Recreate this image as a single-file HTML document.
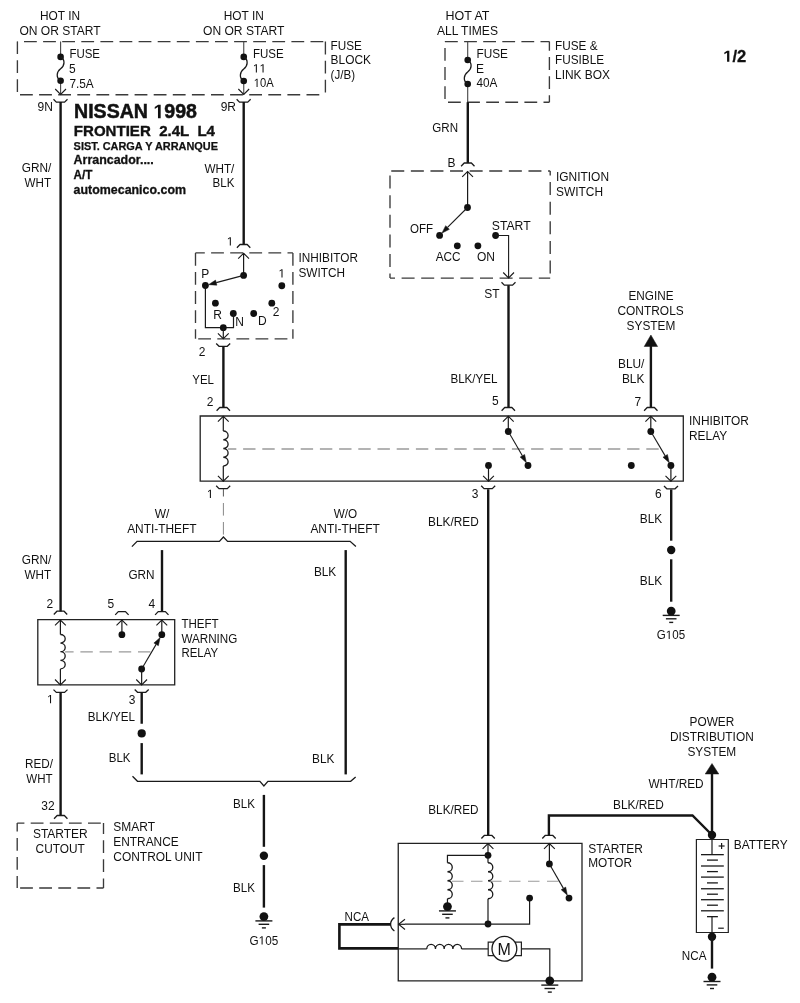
<!DOCTYPE html>
<html><head><meta charset="utf-8"><style>
html,body{margin:0;padding:0;background:#fff;}
svg{display:block;will-change:transform;font-family:"Liberation Sans",sans-serif;}
</style></head><body>
<svg width="800" height="1003" viewBox="0 0 800 1003">
<rect x="0" y="0" width="800" height="1003" fill="#fff"/>
<line x1="17.4" y1="41.6" x2="325.4" y2="41.6" stroke="#3a3a3a" stroke-width="1.35" stroke-dasharray="12.8 6.3" stroke-dashoffset="-6.6"/>
<line x1="325.4" y1="41.6" x2="325.4" y2="94.7" stroke="#3a3a3a" stroke-width="1.35" stroke-dasharray="12.8 6.3" stroke-dashoffset="0"/>
<line x1="17.4" y1="94.7" x2="325.4" y2="94.7" stroke="#3a3a3a" stroke-width="1.35" stroke-dasharray="12.8 6.3" stroke-dashoffset="-2.6"/>
<line x1="17.4" y1="41.6" x2="17.4" y2="94.7" stroke="#3a3a3a" stroke-width="1.35" stroke-dasharray="12.8 6.3" stroke-dashoffset="0.5"/>
<line x1="445" y1="41.6" x2="549.4" y2="41.6" stroke="#3a3a3a" stroke-width="1.35" stroke-dasharray="12.8 6.3" stroke-dashoffset="0"/>
<line x1="549.4" y1="41.6" x2="549.4" y2="102.2" stroke="#3a3a3a" stroke-width="1.35" stroke-dasharray="12.8 6.3" stroke-dashoffset="3.6"/>
<line x1="445" y1="102.2" x2="549.4" y2="102.2" stroke="#3a3a3a" stroke-width="1.35" stroke-dasharray="12.8 6.3" stroke-dashoffset="-3"/>
<line x1="445" y1="41.6" x2="445" y2="102.2" stroke="#3a3a3a" stroke-width="1.35" stroke-dasharray="12.8 6.3" stroke-dashoffset="-6.4"/>
<line x1="60.6" y1="41.6" x2="60.6" y2="56.9" stroke="#444" stroke-width="1.1" />
<line x1="60.6" y1="80.8" x2="60.6" y2="94.4" stroke="#444" stroke-width="1.1" />
<circle cx="60.6" cy="56.9" r="3.3" fill="#111"/>
<circle cx="60.6" cy="80.8" r="3.3" fill="#111"/>
<path d="M60.6,56.9 C65.6,59.9 64.6,65.85 60.6,68.85 C56.6,71.85 55.6,77.8 60.6,80.8" stroke="#1a1a1a" stroke-width="1.3" fill="none" />
<path d="M55.20,89.00 L60.60,94.40 L66.00,89.00" stroke="#1a1a1a" stroke-width="1.1" fill="none" />
<path d="M53.50,99.30 L56.30,102.10 L64.60,102.10 L67.50,99.30" stroke="#1a1a1a" stroke-width="1.3" fill="none" stroke-linejoin="round"/>
<line x1="60.6" y1="102" x2="60.6" y2="611.6" stroke="#151515" stroke-width="2.4" />
<line x1="243.75" y1="41.6" x2="243.75" y2="56.9" stroke="#444" stroke-width="1.1" />
<line x1="243.75" y1="81" x2="243.75" y2="94.4" stroke="#444" stroke-width="1.1" />
<circle cx="243.75" cy="56.9" r="3.3" fill="#111"/>
<circle cx="243.75" cy="81" r="3.3" fill="#111"/>
<path d="M243.75,56.9 C248.75,59.9 247.75,65.95 243.75,68.95 C239.75,71.95 238.75,78 243.75,81" stroke="#1a1a1a" stroke-width="1.3" fill="none" />
<path d="M238.35,89.00 L243.75,94.40 L249.15,89.00" stroke="#1a1a1a" stroke-width="1.1" fill="none" />
<path d="M236.65,99.30 L239.45,102.10 L247.75,102.10 L250.65,99.30" stroke="#1a1a1a" stroke-width="1.3" fill="none" stroke-linejoin="round"/>
<line x1="243.7" y1="102" x2="243.7" y2="244.5" stroke="#151515" stroke-width="2.4" />
<line x1="467.7" y1="41.6" x2="467.7" y2="60" stroke="#444" stroke-width="1.1" />
<line x1="467.7" y1="84" x2="467.7" y2="102.2" stroke="#444" stroke-width="1.1" />
<circle cx="467.7" cy="60" r="3.3" fill="#111"/>
<circle cx="467.7" cy="84" r="3.3" fill="#111"/>
<path d="M467.7,60 C472.7,63 471.7,69.0 467.7,72.0 C463.7,75.0 462.7,81 467.7,84" stroke="#1a1a1a" stroke-width="1.3" fill="none" />
<line x1="467.8" y1="102.2" x2="467.8" y2="163" stroke="#151515" stroke-width="2.4" />
<text xml:space="preserve" x="40.00" y="20.40" font-size="12" font-weight="normal" textLength="40.05" lengthAdjust="spacingAndGlyphs" fill="#111">HOT IN</text>
<text xml:space="preserve" x="19.40" y="34.75" font-size="12" font-weight="normal" textLength="81.30" lengthAdjust="spacingAndGlyphs" fill="#111">ON OR START</text>
<text xml:space="preserve" x="223.75" y="20.40" font-size="12" font-weight="normal" textLength="40.05" lengthAdjust="spacingAndGlyphs" fill="#111">HOT IN</text>
<text xml:space="preserve" x="203.00" y="34.75" font-size="12" font-weight="normal" textLength="81.40" lengthAdjust="spacingAndGlyphs" fill="#111">ON OR START</text>
<text xml:space="preserve" x="445.60" y="20.40" font-size="12" font-weight="normal" textLength="43.83" lengthAdjust="spacingAndGlyphs" fill="#111">HOT AT</text>
<text xml:space="preserve" x="436.90" y="34.75" font-size="12" font-weight="normal" textLength="61.09" lengthAdjust="spacingAndGlyphs" fill="#111">ALL TIMES</text>
<text xml:space="preserve" x="69.40" y="57.90" font-size="12" font-weight="normal" textLength="30.60" lengthAdjust="spacingAndGlyphs" fill="#111">FUSE</text>
<text xml:space="preserve" x="69.10" y="72.50" font-size="12" font-weight="normal" textLength="6.67" lengthAdjust="spacingAndGlyphs" fill="#111">5</text>
<text xml:space="preserve" x="69.40" y="87.50" font-size="12" font-weight="normal" textLength="24.34" lengthAdjust="spacingAndGlyphs" fill="#111">7.5A</text>
<text xml:space="preserve" x="253.00" y="57.90" font-size="12" font-weight="normal" textLength="30.75" lengthAdjust="spacingAndGlyphs" fill="#111">FUSE</text>
<path d="M515 0V1237L197 1010V1180L530 1409H696V0Z" transform="translate(252.82,72.50) scale(0.00586,-0.00586)" fill="#111"/>
<path d="M515 0V1237L197 1010V1180L530 1409H696V0Z" transform="translate(259.50,72.50) scale(0.00586,-0.00586)" fill="#111"/>
<text xml:space="preserve" x="252.82" y="72.50" font-size="12" font-weight="normal" textLength="12.46" lengthAdjust="spacingAndGlyphs" fill="#111">  </text>
<path d="M515 0V1237L197 1010V1180L530 1409H696V0Z" transform="translate(253.75,87.10) scale(0.00548,-0.00586)" fill="#111"/>
<text xml:space="preserve" x="253.75" y="87.10" font-size="12" font-weight="normal" textLength="19.95" lengthAdjust="spacingAndGlyphs" fill="#111"> 0A</text>
<text xml:space="preserve" x="476.50" y="57.90" font-size="12" font-weight="normal" textLength="31.50" lengthAdjust="spacingAndGlyphs" fill="#111">FUSE</text>
<text xml:space="preserve" x="476.12" y="72.50" font-size="12" font-weight="normal" textLength="8.00" lengthAdjust="spacingAndGlyphs" fill="#111">E</text>
<text xml:space="preserve" x="476.50" y="87.10" font-size="12" font-weight="normal" textLength="20.95" lengthAdjust="spacingAndGlyphs" fill="#111">40A</text>
<text xml:space="preserve" x="330.60" y="49.60" font-size="12" font-weight="normal" textLength="31.30" lengthAdjust="spacingAndGlyphs" fill="#111">FUSE</text>
<text xml:space="preserve" x="330.60" y="64.40" font-size="12" font-weight="normal" textLength="40.38" lengthAdjust="spacingAndGlyphs" fill="#111">BLOCK</text>
<text xml:space="preserve" x="330.60" y="78.75" font-size="12" font-weight="normal" textLength="24.43" lengthAdjust="spacingAndGlyphs" fill="#111">(J/B)</text>
<text xml:space="preserve" x="555.00" y="49.60" font-size="12" font-weight="normal" textLength="42.54" lengthAdjust="spacingAndGlyphs" fill="#111">FUSE &amp;</text>
<text xml:space="preserve" x="555.00" y="64.40" font-size="12" font-weight="normal" textLength="49.02" lengthAdjust="spacingAndGlyphs" fill="#111">FUSIBLE</text>
<text xml:space="preserve" x="555.00" y="79.40" font-size="12" font-weight="normal" textLength="54.96" lengthAdjust="spacingAndGlyphs" fill="#111">LINK BOX</text>
<text xml:space="preserve" x="37.60" y="110.60" font-size="12" font-weight="normal" textLength="15.34" lengthAdjust="spacingAndGlyphs" fill="#111">9N</text>
<text xml:space="preserve" x="220.65" y="110.60" font-size="12" font-weight="normal" textLength="15.34" lengthAdjust="spacingAndGlyphs" fill="#111">9R</text>
<path d="M478 0V1170L140 959V1180L493 1409H759V0Z" transform="translate(723.20,61.80) scale(0.00809,-0.00781)" fill="#111"/>
<text xml:space="preserve" x="723.20" y="61.80" font-size="16" font-weight="bold" textLength="23.04" lengthAdjust="spacingAndGlyphs" fill="#111" stroke="#111" stroke-width="0.3"> /2</text>
<path d="M478 0V1170L140 959V1180L493 1409H759V0Z" transform="translate(153.41,118.30) scale(0.00956,-0.00967)" fill="#111"/>
<text xml:space="preserve" x="74.00" y="118.30" font-size="19.8" font-weight="bold" textLength="122.96" lengthAdjust="spacingAndGlyphs" fill="#111" stroke="#111" stroke-width="0.5">NISSAN  998</text>
<text xml:space="preserve" x="73.80" y="136.00" font-size="14.2" font-weight="bold" textLength="141.18" lengthAdjust="spacingAndGlyphs" fill="#111" stroke="#111" stroke-width="0.35">FRONTIER  2.4L  L4</text>
<text xml:space="preserve" x="73.60" y="150.00" font-size="11" font-weight="bold" textLength="144.37" lengthAdjust="spacingAndGlyphs" fill="#111" stroke="#111" stroke-width="0.25">SIST. CARGA Y ARRANQUE</text>
<text xml:space="preserve" x="73.60" y="164.40" font-size="12.4" font-weight="bold" textLength="80.19" lengthAdjust="spacingAndGlyphs" fill="#111" stroke="#111" stroke-width="0.3">Arrancador....</text>
<text xml:space="preserve" x="73.60" y="178.90" font-size="12.4" font-weight="bold" textLength="18.88" lengthAdjust="spacingAndGlyphs" fill="#111" stroke="#111" stroke-width="0.3">A/T</text>
<text xml:space="preserve" x="73.60" y="194.00" font-size="12.4" font-weight="bold" textLength="112.43" lengthAdjust="spacingAndGlyphs" fill="#111" stroke="#111" stroke-width="0.3">automecanico.com</text>
<text xml:space="preserve" x="21.80" y="172.20" font-size="12" font-weight="normal" textLength="29.60" lengthAdjust="spacingAndGlyphs" fill="#111">GRN/</text>
<text xml:space="preserve" x="24.50" y="187.00" font-size="12" font-weight="normal" textLength="26.52" lengthAdjust="spacingAndGlyphs" fill="#111">WHT</text>
<text xml:space="preserve" x="204.40" y="172.50" font-size="12" font-weight="normal" textLength="29.96" lengthAdjust="spacingAndGlyphs" fill="#111">WHT/</text>
<text xml:space="preserve" x="212.50" y="187.10" font-size="12" font-weight="normal" textLength="21.88" lengthAdjust="spacingAndGlyphs" fill="#111">BLK</text>
<text xml:space="preserve" x="432.25" y="131.50" font-size="12" font-weight="normal" textLength="25.77" lengthAdjust="spacingAndGlyphs" fill="#111">GRN</text>
<path d="M461.10,166.25 L464.20,163.00 L471.40,163.00 L474.50,166.25" stroke="#1a1a1a" stroke-width="1.3" fill="none" stroke-linejoin="round"/>
<text xml:space="preserve" x="447.50" y="166.50" font-size="12" font-weight="normal" textLength="8.00" lengthAdjust="spacingAndGlyphs" fill="#111">B</text>
<line x1="390" y1="171" x2="550.2" y2="171" stroke="#3a3a3a" stroke-width="1.35" stroke-dasharray="13 6.6" stroke-dashoffset="-1.25"/>
<line x1="550.2" y1="171" x2="550.2" y2="278.1" stroke="#3a3a3a" stroke-width="1.35" stroke-dasharray="13 6.6" stroke-dashoffset="8.5"/>
<line x1="390" y1="278.1" x2="550.2" y2="278.1" stroke="#3a3a3a" stroke-width="1.35" stroke-dasharray="13 6.6" stroke-dashoffset="8"/>
<line x1="390" y1="171" x2="390" y2="278.1" stroke="#3a3a3a" stroke-width="1.35" stroke-dasharray="13 6.6" stroke-dashoffset="-4.6"/>
<path d="M462.20,176.90 L467.60,171.50 L473.00,176.90" stroke="#1a1a1a" stroke-width="1.1" fill="none" />
<line x1="467.6" y1="171.5" x2="467.6" y2="207.5" stroke="#1a1a1a" stroke-width="1.2" />
<circle cx="467.5" cy="207.5" r="3.4" fill="#111"/>
<circle cx="439.6" cy="235.4" r="3.4" fill="#111"/>
<line x1="467.50" y1="207.50" x2="447.52" y2="227.48" stroke="#1a1a1a" stroke-width="1.1" />
<path d="M441.86,233.14 L445.68,225.64 L449.36,229.32 Z" stroke="#1a1a1a" stroke-width="0.5" fill="#111" />
<circle cx="457.3" cy="245.8" r="3.4" fill="#111"/>
<circle cx="477.9" cy="245.8" r="3.4" fill="#111"/>
<circle cx="495.6" cy="235.5" r="3.4" fill="#111"/>
<path d="M495.6,235.5 H508.6 V277.9" stroke="#1a1a1a" stroke-width="1.1" fill="none" />
<path d="M503.20,272.50 L508.60,277.90 L514.00,272.50" stroke="#1a1a1a" stroke-width="1.1" fill="none" />
<path d="M501.50,282.30 L504.30,285.10 L512.60,285.10 L515.50,282.30" stroke="#1a1a1a" stroke-width="1.3" fill="none" stroke-linejoin="round"/>
<line x1="508.5" y1="285.2" x2="508.5" y2="407.5" stroke="#151515" stroke-width="2.4" />
<text xml:space="preserve" x="556.00" y="181.00" font-size="12" font-weight="normal" textLength="53.03" lengthAdjust="spacingAndGlyphs" fill="#111">IGNITION</text>
<text xml:space="preserve" x="556.00" y="195.50" font-size="12" font-weight="normal" textLength="47.03" lengthAdjust="spacingAndGlyphs" fill="#111">SWITCH</text>
<text xml:space="preserve" x="410.00" y="233.10" font-size="12" font-weight="normal" textLength="23.09" lengthAdjust="spacingAndGlyphs" fill="#111">OFF</text>
<text xml:space="preserve" x="491.75" y="229.75" font-size="12" font-weight="normal" textLength="38.88" lengthAdjust="spacingAndGlyphs" fill="#111">START</text>
<text xml:space="preserve" x="435.75" y="261.25" font-size="12" font-weight="normal" textLength="24.89" lengthAdjust="spacingAndGlyphs" fill="#111">ACC</text>
<text xml:space="preserve" x="476.90" y="261.25" font-size="12" font-weight="normal" textLength="18.00" lengthAdjust="spacingAndGlyphs" fill="#111">ON</text>
<text xml:space="preserve" x="484.35" y="297.50" font-size="12" font-weight="normal" textLength="15.33" lengthAdjust="spacingAndGlyphs" fill="#111">ST</text>
<path d="M236.90,247.75 L240.00,244.50 L247.20,244.50 L250.30,247.75" stroke="#1a1a1a" stroke-width="1.3" fill="none" stroke-linejoin="round"/>
<path d="M515 0V1237L197 1010V1180L530 1409H696V0Z" transform="translate(226.78,245.50) scale(0.00586,-0.00586)" fill="#111"/>
<text xml:space="preserve" x="226.78" y="245.50" font-size="12" font-weight="normal" textLength="6.67" lengthAdjust="spacingAndGlyphs" fill="#111"> </text>
<line x1="195.5" y1="252.9" x2="292.9" y2="252.9" stroke="#3a3a3a" stroke-width="1.35" stroke-dasharray="12.8 6.3" stroke-dashoffset="3.5"/>
<line x1="292.9" y1="252.9" x2="292.9" y2="338.8" stroke="#3a3a3a" stroke-width="1.35" stroke-dasharray="12.8 6.3" stroke-dashoffset="0"/>
<line x1="195.5" y1="338.8" x2="292.9" y2="338.8" stroke="#3a3a3a" stroke-width="1.35" stroke-dasharray="12.8 6.3" stroke-dashoffset="-2.7"/>
<line x1="195.5" y1="252.9" x2="195.5" y2="338.8" stroke="#3a3a3a" stroke-width="1.35" stroke-dasharray="12.8 6.3" stroke-dashoffset="0"/>
<path d="M238.20,258.65 L243.60,253.25 L249.00,258.65" stroke="#1a1a1a" stroke-width="1.1" fill="none" />
<line x1="243.6" y1="253.25" x2="243.6" y2="275.4" stroke="#1a1a1a" stroke-width="1.2" />
<circle cx="243.6" cy="275.4" r="3.4" fill="#111"/>
<circle cx="205.4" cy="285.5" r="3.4" fill="#111"/>
<line x1="243.60" y1="275.40" x2="216.23" y2="282.64" stroke="#1a1a1a" stroke-width="1.1" />
<path d="M208.49,284.68 L215.56,280.12 L216.89,285.15 Z" stroke="#1a1a1a" stroke-width="0.5" fill="#111" />
<circle cx="281.8" cy="285.75" r="3.4" fill="#111"/>
<circle cx="215.4" cy="303.2" r="3.4" fill="#111"/>
<circle cx="233.3" cy="313.5" r="3.4" fill="#111"/>
<circle cx="253.7" cy="313.5" r="3.4" fill="#111"/>
<circle cx="271.8" cy="303.2" r="3.4" fill="#111"/>
<path d="M205.4,285.5 V327.7 H233.5 V313.5" stroke="#1a1a1a" stroke-width="1.2" fill="none" />
<circle cx="223.3" cy="327.7" r="3.4" fill="#111"/>
<line x1="223.3" y1="327.7" x2="223.3" y2="338.7" stroke="#1a1a1a" stroke-width="1.2" />
<path d="M217.90,333.30 L223.30,338.70 L228.70,333.30" stroke="#1a1a1a" stroke-width="1.1" fill="none" />
<path d="M216.20,343.50 L219.00,346.30 L227.30,346.30 L230.20,343.50" stroke="#1a1a1a" stroke-width="1.3" fill="none" stroke-linejoin="round"/>
<line x1="223.4" y1="346.5" x2="223.4" y2="407.5" stroke="#151515" stroke-width="2.4" />
<text xml:space="preserve" x="298.50" y="262.20" font-size="12" font-weight="normal" textLength="59.45" lengthAdjust="spacingAndGlyphs" fill="#111">INHIBITOR</text>
<text xml:space="preserve" x="298.50" y="277.00" font-size="12" font-weight="normal" textLength="46.53" lengthAdjust="spacingAndGlyphs" fill="#111">SWITCH</text>
<text xml:space="preserve" x="201.35" y="277.50" font-size="12" font-weight="normal" textLength="8.00" lengthAdjust="spacingAndGlyphs" fill="#111">P</text>
<path d="M515 0V1237L197 1010V1180L530 1409H696V0Z" transform="translate(278.45,277.50) scale(0.00586,-0.00586)" fill="#111"/>
<text xml:space="preserve" x="278.45" y="277.50" font-size="12" font-weight="normal" textLength="6.67" lengthAdjust="spacingAndGlyphs" fill="#111"> </text>
<text xml:space="preserve" x="213.25" y="318.75" font-size="12" font-weight="normal" textLength="8.67" lengthAdjust="spacingAndGlyphs" fill="#111">R</text>
<text xml:space="preserve" x="235.15" y="326.30" font-size="12" font-weight="normal" textLength="8.67" lengthAdjust="spacingAndGlyphs" fill="#111">N</text>
<text xml:space="preserve" x="258.05" y="324.70" font-size="12" font-weight="normal" textLength="8.67" lengthAdjust="spacingAndGlyphs" fill="#111">D</text>
<text xml:space="preserve" x="272.85" y="316.30" font-size="12" font-weight="normal" textLength="6.67" lengthAdjust="spacingAndGlyphs" fill="#111">2</text>
<text xml:space="preserve" x="198.85" y="355.60" font-size="12" font-weight="normal" textLength="6.67" lengthAdjust="spacingAndGlyphs" fill="#111">2</text>
<text xml:space="preserve" x="192.25" y="383.75" font-size="12" font-weight="normal" textLength="21.73" lengthAdjust="spacingAndGlyphs" fill="#111">YEL</text>
<text xml:space="preserve" x="206.85" y="405.60" font-size="12" font-weight="normal" textLength="6.67" lengthAdjust="spacingAndGlyphs" fill="#111">2</text>
<text xml:space="preserve" x="628.50" y="300.25" font-size="12" font-weight="normal" textLength="45.01" lengthAdjust="spacingAndGlyphs" fill="#111">ENGINE</text>
<text xml:space="preserve" x="617.50" y="315.40" font-size="12" font-weight="normal" textLength="66.22" lengthAdjust="spacingAndGlyphs" fill="#111">CONTROLS</text>
<text xml:space="preserve" x="626.60" y="329.75" font-size="12" font-weight="normal" textLength="48.69" lengthAdjust="spacingAndGlyphs" fill="#111">SYSTEM</text>
<path d="M650.9,335 L657.6,346.5 L644.2,346.5 Z" stroke="#1a1a1a" stroke-width="0.5" fill="#111" />
<line x1="650.9" y1="346" x2="650.9" y2="407.5" stroke="#151515" stroke-width="2.4" />
<text xml:space="preserve" x="618.00" y="368.10" font-size="12" font-weight="normal" textLength="26.38" lengthAdjust="spacingAndGlyphs" fill="#111">BLU/</text>
<text xml:space="preserve" x="621.90" y="382.50" font-size="12" font-weight="normal" textLength="22.48" lengthAdjust="spacingAndGlyphs" fill="#111">BLK</text>
<text xml:space="preserve" x="634.40" y="405.50" font-size="12" font-weight="normal" textLength="6.67" lengthAdjust="spacingAndGlyphs" fill="#111">7</text>
<text xml:space="preserve" x="450.40" y="383.40" font-size="12" font-weight="normal" textLength="47.20" lengthAdjust="spacingAndGlyphs" fill="#111">BLK/YEL</text>
<text xml:space="preserve" x="491.90" y="405.40" font-size="12" font-weight="normal" textLength="6.67" lengthAdjust="spacingAndGlyphs" fill="#111">5</text>
<path d="M200.2,416 H683.3 V481.2 H200.2 Z" stroke="#222" stroke-width="1.3" fill="none" />
<line x1="228" y1="449" x2="659.5" y2="449" stroke="#9a9a9a" stroke-width="1.3" stroke-dasharray="12.4 6.8" stroke-dashoffset="4.1"/>
<path d="M216.60,410.75 L219.70,407.50 L226.90,407.50 L230.00,410.75" stroke="#1a1a1a" stroke-width="1.3" fill="none" stroke-linejoin="round"/>
<path d="M217.90,421.70 L223.30,416.30 L228.70,421.70" stroke="#1a1a1a" stroke-width="1.1" fill="none" />
<line x1="223.3" y1="416.3" x2="223.3" y2="431" stroke="#1a1a1a" stroke-width="1.2" />
<path d="M223.3,431 A4.8 4.375 0 0 1 223.3,439.750 A4.8 4.375 0 0 1 223.3,448.500 A4.8 4.375 0 0 1 223.3,457.250 A4.8 4.375 0 0 1 223.3,466.000" stroke="#1a1a1a" stroke-width="1.3" fill="none" />
<line x1="223.3" y1="466" x2="223.3" y2="481.2" stroke="#1a1a1a" stroke-width="1.2" />
<path d="M217.90,475.80 L223.30,481.20 L228.70,475.80" stroke="#1a1a1a" stroke-width="1.1" fill="none" />
<path d="M216.20,485.80 L219.00,488.60 L227.30,488.60 L230.20,485.80" stroke="#1a1a1a" stroke-width="1.3" fill="none" stroke-linejoin="round"/>
<line x1="223.4" y1="489" x2="223.4" y2="496.5" stroke="#555" stroke-width="1.0" />
<line x1="223.4" y1="503" x2="223.4" y2="536" stroke="#888" stroke-width="1.0" stroke-dasharray="12.6 6.4" stroke-dashoffset="0"/>
<path d="M501.60,410.75 L504.70,407.50 L511.90,407.50 L515.00,410.75" stroke="#1a1a1a" stroke-width="1.3" fill="none" stroke-linejoin="round"/>
<path d="M502.90,421.70 L508.30,416.30 L513.70,421.70" stroke="#1a1a1a" stroke-width="1.1" fill="none" />
<line x1="508.3" y1="416.3" x2="508.3" y2="431.5" stroke="#1a1a1a" stroke-width="1.2" />
<circle cx="508.3" cy="431.5" r="3.4" fill="#111"/>
<circle cx="528" cy="465.5" r="3.4" fill="#111"/>
<line x1="508.30" y1="431.50" x2="522.39" y2="455.81" stroke="#1a1a1a" stroke-width="1.1" />
<path d="M526.40,462.73 L520.14,457.11 L524.63,454.51 Z" stroke="#1a1a1a" stroke-width="0.5" fill="#111" />
<circle cx="488.5" cy="465.5" r="3.4" fill="#111"/>
<line x1="488.5" y1="465.5" x2="488.5" y2="481.2" stroke="#1a1a1a" stroke-width="1.2" />
<path d="M483.10,475.80 L488.50,481.20 L493.90,475.80" stroke="#1a1a1a" stroke-width="1.1" fill="none" />
<path d="M481.20,485.80 L484.00,488.60 L492.30,488.60 L495.20,485.80" stroke="#1a1a1a" stroke-width="1.3" fill="none" stroke-linejoin="round"/>
<line x1="488.2" y1="489.2" x2="488.2" y2="835.3" stroke="#151515" stroke-width="2.4" />
<path d="M644.10,410.75 L647.20,407.50 L654.40,407.50 L657.50,410.75" stroke="#1a1a1a" stroke-width="1.3" fill="none" stroke-linejoin="round"/>
<path d="M645.40,421.70 L650.80,416.30 L656.20,421.70" stroke="#1a1a1a" stroke-width="1.1" fill="none" />
<line x1="650.8" y1="416.3" x2="650.8" y2="431.5" stroke="#1a1a1a" stroke-width="1.2" />
<circle cx="650.8" cy="431.5" r="3.4" fill="#111"/>
<circle cx="670.9" cy="465.5" r="3.4" fill="#111"/>
<line x1="650.80" y1="431.50" x2="665.20" y2="455.86" stroke="#1a1a1a" stroke-width="1.1" />
<path d="M669.27,462.75 L662.96,457.18 L667.44,454.54 Z" stroke="#1a1a1a" stroke-width="0.5" fill="#111" />
<circle cx="631.3" cy="465.5" r="3.4" fill="#111"/>
<line x1="670.9" y1="465.5" x2="670.9" y2="481.2" stroke="#1a1a1a" stroke-width="1.2" />
<path d="M665.50,475.80 L670.90,481.20 L676.30,475.80" stroke="#1a1a1a" stroke-width="1.1" fill="none" />
<path d="M664.00,486.00 L666.80,488.80 L675.10,488.80 L678.00,486.00" stroke="#1a1a1a" stroke-width="1.3" fill="none" stroke-linejoin="round"/>
<line x1="671.2" y1="489.5" x2="671.2" y2="540.7" stroke="#151515" stroke-width="2.4" />
<circle cx="671.2" cy="550" r="4.2" fill="#111"/>
<line x1="671.2" y1="559.3" x2="671.2" y2="601.7" stroke="#151515" stroke-width="2.4" />
<circle cx="671.2" cy="611.1" r="4.4" fill="#111"/>
<line x1="662.7" y1="615.4" x2="679.7" y2="615.4" stroke="#1a1a1a" stroke-width="1.4" />
<line x1="665.9000000000001" y1="618.8000000000001" x2="676.5" y2="618.8000000000001" stroke="#1a1a1a" stroke-width="1.4" />
<line x1="669.2" y1="622.4" x2="673.2" y2="622.4" stroke="#1a1a1a" stroke-width="1.4" />
<text xml:space="preserve" x="689.00" y="425.40" font-size="12" font-weight="normal" textLength="59.95" lengthAdjust="spacingAndGlyphs" fill="#111">INHIBITOR</text>
<text xml:space="preserve" x="689.00" y="440.00" font-size="12" font-weight="normal" textLength="38.21" lengthAdjust="spacingAndGlyphs" fill="#111">RELAY</text>
<path d="M515 0V1237L197 1010V1180L530 1409H696V0Z" transform="translate(206.85,498.10) scale(0.00586,-0.00586)" fill="#111"/>
<text xml:space="preserve" x="206.85" y="498.10" font-size="12" font-weight="normal" textLength="6.67" lengthAdjust="spacingAndGlyphs" fill="#111"> </text>
<text xml:space="preserve" x="471.65" y="497.50" font-size="12" font-weight="normal" textLength="6.67" lengthAdjust="spacingAndGlyphs" fill="#111">3</text>
<text xml:space="preserve" x="654.88" y="497.50" font-size="12" font-weight="normal" textLength="6.67" lengthAdjust="spacingAndGlyphs" fill="#111">6</text>
<text xml:space="preserve" x="428.10" y="526.25" font-size="12" font-weight="normal" textLength="50.60" lengthAdjust="spacingAndGlyphs" fill="#111">BLK/RED</text>
<text xml:space="preserve" x="639.80" y="523.20" font-size="12" font-weight="normal" textLength="22.38" lengthAdjust="spacingAndGlyphs" fill="#111">BLK</text>
<text xml:space="preserve" x="639.80" y="585.40" font-size="12" font-weight="normal" textLength="22.38" lengthAdjust="spacingAndGlyphs" fill="#111">BLK</text>
<path d="M515 0V1237L197 1010V1180L530 1409H696V0Z" transform="translate(665.79,639.00) scale(0.00564,-0.00586)" fill="#111"/>
<text xml:space="preserve" x="656.80" y="639.00" font-size="12" font-weight="normal" textLength="28.26" lengthAdjust="spacingAndGlyphs" fill="#111">G 05</text>
<path d="M131.9,546.6 L137.1,541.35 L219.4,541.35 L223.4,537 L227.6,541.35 L350.1,541.35 L355.9,546.6" stroke="#1a1a1a" stroke-width="1.3" fill="none" />
<text xml:space="preserve" x="154.80" y="518.25" font-size="12" font-weight="normal" textLength="14.66" lengthAdjust="spacingAndGlyphs" fill="#111">W/</text>
<text xml:space="preserve" x="127.15" y="533.10" font-size="12" font-weight="normal" textLength="69.44" lengthAdjust="spacingAndGlyphs" fill="#111">ANTI-THEFT</text>
<text xml:space="preserve" x="333.65" y="518.25" font-size="12" font-weight="normal" textLength="23.45" lengthAdjust="spacingAndGlyphs" fill="#111">W/O</text>
<text xml:space="preserve" x="310.40" y="533.10" font-size="12" font-weight="normal" textLength="69.49" lengthAdjust="spacingAndGlyphs" fill="#111">ANTI-THEFT</text>
<line x1="162.0" y1="550.1" x2="162.0" y2="611.6" stroke="#151515" stroke-width="2.4" />
<line x1="345.7" y1="550.1" x2="345.7" y2="774.4" stroke="#151515" stroke-width="2.4" />
<text xml:space="preserve" x="128.40" y="578.60" font-size="12" font-weight="normal" textLength="26.17" lengthAdjust="spacingAndGlyphs" fill="#111">GRN</text>
<text xml:space="preserve" x="313.90" y="576.35" font-size="12" font-weight="normal" textLength="22.38" lengthAdjust="spacingAndGlyphs" fill="#111">BLK</text>
<text xml:space="preserve" x="21.80" y="564.30" font-size="12" font-weight="normal" textLength="29.60" lengthAdjust="spacingAndGlyphs" fill="#111">GRN/</text>
<text xml:space="preserve" x="24.50" y="579.00" font-size="12" font-weight="normal" textLength="26.52" lengthAdjust="spacingAndGlyphs" fill="#111">WHT</text>
<path d="M37.8,619.6 H174.7 V684.9 H37.8 Z" stroke="#222" stroke-width="1.3" fill="none" />
<line x1="65" y1="651.9" x2="150.75" y2="651.9" stroke="#9a9a9a" stroke-width="1.3" stroke-dasharray="12.4 6.8" stroke-dashoffset="3.8"/>
<path d="M53.80,614.45 L56.90,611.20 L64.10,611.20 L67.20,614.45" stroke="#1a1a1a" stroke-width="1.3" fill="none" stroke-linejoin="round"/>
<path d="M55.00,625.40 L60.40,620.00 L65.80,625.40" stroke="#1a1a1a" stroke-width="1.1" fill="none" />
<line x1="60.4" y1="620" x2="60.4" y2="634.5" stroke="#1a1a1a" stroke-width="1.2" />
<path d="M60.4,634.5 A4.8 4.300 0 0 1 60.4,643.100 A4.8 4.300 0 0 1 60.4,651.700 A4.8 4.300 0 0 1 60.4,660.300 A4.8 4.300 0 0 1 60.4,668.900" stroke="#1a1a1a" stroke-width="1.3" fill="none" />
<line x1="60.4" y1="668.9" x2="60.4" y2="684.9" stroke="#1a1a1a" stroke-width="1.2" />
<path d="M55.00,679.50 L60.40,684.90 L65.80,679.50" stroke="#1a1a1a" stroke-width="1.1" fill="none" />
<path d="M53.50,689.60 L56.30,692.40 L64.60,692.40 L67.50,689.60" stroke="#1a1a1a" stroke-width="1.3" fill="none" stroke-linejoin="round"/>
<line x1="60.6" y1="692.6" x2="60.6" y2="815.5" stroke="#151515" stroke-width="2.4" />
<path d="M115.20,614.85 L118.30,611.60 L125.50,611.60 L128.60,614.85" stroke="#1a1a1a" stroke-width="1.3" fill="none" stroke-linejoin="round"/>
<path d="M116.50,625.40 L121.90,620.00 L127.30,625.40" stroke="#1a1a1a" stroke-width="1.1" fill="none" />
<line x1="121.9" y1="620" x2="121.9" y2="634.7" stroke="#1a1a1a" stroke-width="1.2" />
<circle cx="121.9" cy="634.7" r="3.4" fill="#111"/>
<path d="M155.10,614.85 L158.20,611.60 L165.40,611.60 L168.50,614.85" stroke="#1a1a1a" stroke-width="1.3" fill="none" stroke-linejoin="round"/>
<path d="M156.40,625.40 L161.80,620.00 L167.20,625.40" stroke="#1a1a1a" stroke-width="1.1" fill="none" />
<line x1="161.8" y1="620" x2="161.8" y2="634.7" stroke="#1a1a1a" stroke-width="1.2" />
<circle cx="161.8" cy="634.7" r="3.4" fill="#111"/>
<circle cx="141.65" cy="669" r="3.4" fill="#111"/>
<line x1="141.65" y1="669.00" x2="156.13" y2="644.36" stroke="#1a1a1a" stroke-width="1.1" />
<path d="M160.18,637.46 L158.37,645.67 L153.89,643.04 Z" stroke="#1a1a1a" stroke-width="0.5" fill="#111" />
<line x1="141.65" y1="669" x2="141.65" y2="684.9" stroke="#1a1a1a" stroke-width="1.2" />
<path d="M136.25,679.50 L141.65,684.90 L147.05,679.50" stroke="#1a1a1a" stroke-width="1.1" fill="none" />
<path d="M134.70,689.50 L137.50,692.30 L145.80,692.30 L148.70,689.50" stroke="#1a1a1a" stroke-width="1.3" fill="none" stroke-linejoin="round"/>
<line x1="141.7" y1="692.6" x2="141.7" y2="723.75" stroke="#151515" stroke-width="2.4" />
<circle cx="141.7" cy="733.4" r="4.1" fill="#111"/>
<line x1="141.7" y1="743.1" x2="141.7" y2="774.4" stroke="#151515" stroke-width="2.4" />
<text xml:space="preserve" x="46.60" y="607.60" font-size="12" font-weight="normal" textLength="6.67" lengthAdjust="spacingAndGlyphs" fill="#111">2</text>
<text xml:space="preserve" x="107.60" y="607.60" font-size="12" font-weight="normal" textLength="6.67" lengthAdjust="spacingAndGlyphs" fill="#111">5</text>
<text xml:space="preserve" x="148.45" y="607.60" font-size="12" font-weight="normal" textLength="6.67" lengthAdjust="spacingAndGlyphs" fill="#111">4</text>
<text xml:space="preserve" x="181.40" y="627.70" font-size="12" font-weight="normal" textLength="37.26" lengthAdjust="spacingAndGlyphs" fill="#111">THEFT</text>
<text xml:space="preserve" x="181.40" y="642.80" font-size="12" font-weight="normal" textLength="55.95" lengthAdjust="spacingAndGlyphs" fill="#111">WARNING</text>
<text xml:space="preserve" x="181.40" y="657.10" font-size="12" font-weight="normal" textLength="36.66" lengthAdjust="spacingAndGlyphs" fill="#111">RELAY</text>
<path d="M515 0V1237L197 1010V1180L530 1409H696V0Z" transform="translate(46.98,703.30) scale(0.00586,-0.00586)" fill="#111"/>
<text xml:space="preserve" x="46.98" y="703.30" font-size="12" font-weight="normal" textLength="6.67" lengthAdjust="spacingAndGlyphs" fill="#111"> </text>
<text xml:space="preserve" x="128.70" y="704.00" font-size="12" font-weight="normal" textLength="6.67" lengthAdjust="spacingAndGlyphs" fill="#111">3</text>
<text xml:space="preserve" x="87.75" y="721.25" font-size="12" font-weight="normal" textLength="47.25" lengthAdjust="spacingAndGlyphs" fill="#111">BLK/YEL</text>
<text xml:space="preserve" x="108.75" y="762.25" font-size="12" font-weight="normal" textLength="21.83" lengthAdjust="spacingAndGlyphs" fill="#111">BLK</text>
<text xml:space="preserve" x="312.00" y="762.60" font-size="12" font-weight="normal" textLength="22.38" lengthAdjust="spacingAndGlyphs" fill="#111">BLK</text>
<path d="M132.5,776.25 L137.5,781.3 L259.9,781.3 L263.9,785.9 L267.9,781.3 L350.65,781.3 L355.65,777" stroke="#1a1a1a" stroke-width="1.3" fill="none" />
<line x1="263.9" y1="794.9" x2="263.9" y2="846.8" stroke="#151515" stroke-width="2.4" />
<circle cx="263.9" cy="855.75" r="4.2" fill="#111"/>
<line x1="263.9" y1="865.1" x2="263.9" y2="907.6" stroke="#151515" stroke-width="2.4" />
<circle cx="263.9" cy="916.6" r="4.4" fill="#111"/>
<line x1="255.39999999999998" y1="920.9" x2="272.4" y2="920.9" stroke="#1a1a1a" stroke-width="1.4" />
<line x1="258.59999999999997" y1="924.3000000000001" x2="269.2" y2="924.3000000000001" stroke="#1a1a1a" stroke-width="1.4" />
<line x1="261.9" y1="927.9" x2="265.9" y2="927.9" stroke="#1a1a1a" stroke-width="1.4" />
<text xml:space="preserve" x="233.00" y="807.90" font-size="12" font-weight="normal" textLength="21.88" lengthAdjust="spacingAndGlyphs" fill="#111">BLK</text>
<text xml:space="preserve" x="233.00" y="891.70" font-size="12" font-weight="normal" textLength="21.88" lengthAdjust="spacingAndGlyphs" fill="#111">BLK</text>
<path d="M515 0V1237L197 1010V1180L530 1409H696V0Z" transform="translate(258.63,944.60) scale(0.00573,-0.00586)" fill="#111"/>
<text xml:space="preserve" x="249.50" y="944.60" font-size="12" font-weight="normal" textLength="28.71" lengthAdjust="spacingAndGlyphs" fill="#111">G 05</text>
<path d="M54.05,818.75 L57.15,815.50 L64.35,815.50 L67.45,818.75" stroke="#1a1a1a" stroke-width="1.3" fill="none" stroke-linejoin="round"/>
<line x1="17.2" y1="823.1" x2="103.5" y2="823.1" stroke="#3a3a3a" stroke-width="1.35" stroke-dasharray="12.8 6.3" stroke-dashoffset="5.6"/>
<line x1="103.5" y1="823.1" x2="103.5" y2="888.0" stroke="#3a3a3a" stroke-width="1.35" stroke-dasharray="12.8 6.3" stroke-dashoffset="2"/>
<line x1="17.2" y1="888.0" x2="103.5" y2="888.0" stroke="#3a3a3a" stroke-width="1.35" stroke-dasharray="12.8 6.3" stroke-dashoffset="-2.9"/>
<line x1="17.2" y1="823.1" x2="17.2" y2="888.0" stroke="#3a3a3a" stroke-width="1.35" stroke-dasharray="12.8 6.3" stroke-dashoffset="4.3"/>
<text xml:space="preserve" x="25.00" y="768.00" font-size="12" font-weight="normal" textLength="27.97" lengthAdjust="spacingAndGlyphs" fill="#111">RED/</text>
<text xml:space="preserve" x="26.25" y="782.50" font-size="12" font-weight="normal" textLength="26.27" lengthAdjust="spacingAndGlyphs" fill="#111">WHT</text>
<text xml:space="preserve" x="41.23" y="810.00" font-size="12" font-weight="normal" textLength="13.35" lengthAdjust="spacingAndGlyphs" fill="#111">32</text>
<text xml:space="preserve" x="32.90" y="838.10" font-size="12" font-weight="normal" textLength="54.85" lengthAdjust="spacingAndGlyphs" fill="#111">STARTER</text>
<text xml:space="preserve" x="35.60" y="852.50" font-size="12" font-weight="normal" textLength="49.12" lengthAdjust="spacingAndGlyphs" fill="#111">CUTOUT</text>
<text xml:space="preserve" x="113.30" y="831.30" font-size="12" font-weight="normal" textLength="41.68" lengthAdjust="spacingAndGlyphs" fill="#111">SMART</text>
<text xml:space="preserve" x="113.30" y="846.20" font-size="12" font-weight="normal" textLength="65.41" lengthAdjust="spacingAndGlyphs" fill="#111">ENTRANCE</text>
<text xml:space="preserve" x="113.30" y="860.80" font-size="12" font-weight="normal" textLength="89.15" lengthAdjust="spacingAndGlyphs" fill="#111">CONTROL UNIT</text>
<path d="M398.25,843.3 H582 V980.8 H398.25 Z" stroke="#222" stroke-width="1.3" fill="none" />
<path d="M481.40,838.55 L484.50,835.30 L491.70,835.30 L494.80,838.55" stroke="#1a1a1a" stroke-width="1.3" fill="none" stroke-linejoin="round"/>
<path d="M482.60,848.90 L488.00,843.50 L493.40,848.90" stroke="#1a1a1a" stroke-width="1.1" fill="none" />
<line x1="488" y1="843.5" x2="488" y2="855.3" stroke="#1a1a1a" stroke-width="1.2" />
<circle cx="488" cy="855.3" r="3.4" fill="#111"/>
<path d="M488,855.3 H447.45 V862.75" stroke="#1a1a1a" stroke-width="1.2" fill="none" />
<path d="M447.45,862.75 A4.8 4.500 0 0 1 447.45,871.750 A4.8 4.500 0 0 1 447.45,880.750 A4.8 4.500 0 0 1 447.45,889.750 A4.8 4.500 0 0 1 447.45,898.750" stroke="#1a1a1a" stroke-width="1.3" fill="none" />
<line x1="447.45" y1="898.75" x2="447.45" y2="906.6" stroke="#1a1a1a" stroke-width="1.2" />
<circle cx="447.45" cy="906.6" r="4.4" fill="#111"/>
<line x1="438.95" y1="910.9" x2="455.95" y2="910.9" stroke="#1a1a1a" stroke-width="1.4" />
<line x1="442.15" y1="914.3000000000001" x2="452.75" y2="914.3000000000001" stroke="#1a1a1a" stroke-width="1.4" />
<line x1="445.45" y1="917.9" x2="449.45" y2="917.9" stroke="#1a1a1a" stroke-width="1.4" />
<line x1="488" y1="855.3" x2="488" y2="862.75" stroke="#1a1a1a" stroke-width="1.2" />
<path d="M488,862.75 A4.8 4.500 0 0 1 488,871.750 A4.8 4.500 0 0 1 488,880.750 A4.8 4.500 0 0 1 488,889.750 A4.8 4.500 0 0 1 488,898.750" stroke="#1a1a1a" stroke-width="1.3" fill="none" />
<line x1="488" y1="898.75" x2="488" y2="924" stroke="#1a1a1a" stroke-width="1.2" />
<circle cx="488" cy="924" r="3.4" fill="#111"/>
<line x1="452" y1="881.3" x2="560" y2="881.3" stroke="#9a9a9a" stroke-width="1.1" stroke-dasharray="11.5 7.5" stroke-dashoffset="0"/>
<path d="M405,924.2 H529.6 V898.1" stroke="#1a1a1a" stroke-width="1.2" fill="none" />
<circle cx="529.6" cy="898.1" r="3.4" fill="#111"/>
<line x1="398.25" y1="924.3" x2="405" y2="924.3" stroke="#1a1a1a" stroke-width="1.2" />
<path d="M405,919.2 L398.6,924.3 L405,929.5" stroke="#1a1a1a" stroke-width="1.1" fill="none" />
<path d="M394.4,917.6 C391.2,919.8 390.6,922 390.6,924.3 C390.6,926.6 391.2,928.8 394.4,931" stroke="#1a1a1a" stroke-width="1.3" fill="none" />
<path d="M390.6,924.4 H339.4 V948.4 H398.25" stroke="#151515" stroke-width="2.6" fill="none" />
<line x1="398.25" y1="948.9" x2="426.75" y2="948.9" stroke="#1a1a1a" stroke-width="1.2" />
<path d="M426.75,948.9 A4.356 4.5 0 0 1 435.462,948.9 A4.356 4.5 0 0 1 444.175,948.9 A4.356 4.5 0 0 1 452.888,948.9 A4.356 4.5 0 0 1 461.600,948.9" stroke="#1a1a1a" stroke-width="1.3" fill="none" />
<line x1="461.6" y1="948.9" x2="488.2" y2="948.9" stroke="#1a1a1a" stroke-width="1.2" />
<path d="M488.2,942.2 H494 V955.6 H488.2 Z" stroke="#222" stroke-width="1.2" fill="none" />
<path d="M515.2,942.2 H521.4 V955.6 H515.2 Z" stroke="#222" stroke-width="1.2" fill="none" />
<circle cx="504.4" cy="948.8" r="12.4" fill="#fff" stroke="#1a1a1a" stroke-width="1.3"/>
<text xml:space="preserve" x="497.50" y="954.80" font-size="16" font-weight="normal" textLength="13.33" lengthAdjust="spacingAndGlyphs" fill="#111">M</text>
<path d="M521.4,948.9 H549.8 V980.8" stroke="#1a1a1a" stroke-width="1.2" fill="none" />
<circle cx="549.8" cy="980.8" r="4.4" fill="#111"/>
<line x1="541.3" y1="985.0999999999999" x2="558.3" y2="985.0999999999999" stroke="#1a1a1a" stroke-width="1.4" />
<line x1="544.5" y1="988.5" x2="555.0999999999999" y2="988.5" stroke="#1a1a1a" stroke-width="1.4" />
<line x1="547.8" y1="992.0999999999999" x2="551.8" y2="992.0999999999999" stroke="#1a1a1a" stroke-width="1.4" />
<path d="M542.30,838.55 L545.40,835.30 L552.60,835.30 L555.70,838.55" stroke="#1a1a1a" stroke-width="1.3" fill="none" stroke-linejoin="round"/>
<path d="M548.9,835.3 V815.5 H692.5 L712,835" stroke="#151515" stroke-width="2.4" fill="none" />
<path d="M544.00,848.90 L549.40,843.50 L554.80,848.90" stroke="#1a1a1a" stroke-width="1.1" fill="none" />
<line x1="549.4" y1="843.5" x2="549.4" y2="863.9" stroke="#1a1a1a" stroke-width="1.2" />
<circle cx="549.4" cy="863.9" r="3.4" fill="#111"/>
<circle cx="569" cy="898.1" r="3.4" fill="#111"/>
<line x1="549.40" y1="863.90" x2="563.43" y2="888.38" stroke="#1a1a1a" stroke-width="1.1" />
<path d="M567.41,895.32 L561.18,889.68 L565.69,887.09 Z" stroke="#1a1a1a" stroke-width="0.5" fill="#111" />
<text xml:space="preserve" x="344.60" y="921.00" font-size="12" font-weight="normal" textLength="24.43" lengthAdjust="spacingAndGlyphs" fill="#111">NCA</text>
<text xml:space="preserve" x="428.30" y="813.80" font-size="12" font-weight="normal" textLength="50.15" lengthAdjust="spacingAndGlyphs" fill="#111">BLK/RED</text>
<text xml:space="preserve" x="588.25" y="852.50" font-size="12" font-weight="normal" textLength="54.75" lengthAdjust="spacingAndGlyphs" fill="#111">STARTER</text>
<text xml:space="preserve" x="588.25" y="866.75" font-size="12" font-weight="normal" textLength="43.79" lengthAdjust="spacingAndGlyphs" fill="#111">MOTOR</text>
<text xml:space="preserve" x="613.00" y="808.75" font-size="12" font-weight="normal" textLength="50.70" lengthAdjust="spacingAndGlyphs" fill="#111">BLK/RED</text>
<text xml:space="preserve" x="648.45" y="787.90" font-size="12" font-weight="normal" textLength="55.24" lengthAdjust="spacingAndGlyphs" fill="#111">WHT/RED</text>
<text xml:space="preserve" x="689.60" y="726.10" font-size="12" font-weight="normal" textLength="44.69" lengthAdjust="spacingAndGlyphs" fill="#111">POWER</text>
<text xml:space="preserve" x="670.00" y="741.10" font-size="12" font-weight="normal" textLength="83.72" lengthAdjust="spacingAndGlyphs" fill="#111">DISTRIBUTION</text>
<text xml:space="preserve" x="687.45" y="755.70" font-size="12" font-weight="normal" textLength="48.79" lengthAdjust="spacingAndGlyphs" fill="#111">SYSTEM</text>
<path d="M712,763.5 L718.8,774 L705.2,774 Z" stroke="#1a1a1a" stroke-width="0.5" fill="#111" />
<line x1="712" y1="773.5" x2="712" y2="835" stroke="#151515" stroke-width="2.4" />
<circle cx="712" cy="835" r="4.2" fill="#111"/>
<path d="M696.4,839.5 H728.3 V932.5 H696.4 Z" stroke="#222" stroke-width="1.2" fill="none" />
<line x1="712" y1="835" x2="712" y2="854.65" stroke="#1a1a1a" stroke-width="1.2" />
<line x1="701" y1="854.65" x2="723.8" y2="854.65" stroke="#1a1a1a" stroke-width="1.3" />
<line x1="701" y1="866" x2="723.8" y2="866" stroke="#1a1a1a" stroke-width="1.3" />
<line x1="701" y1="877.1" x2="723.8" y2="877.1" stroke="#1a1a1a" stroke-width="1.3" />
<line x1="701" y1="888.75" x2="723.8" y2="888.75" stroke="#1a1a1a" stroke-width="1.3" />
<line x1="701" y1="899.7" x2="723.8" y2="899.7" stroke="#1a1a1a" stroke-width="1.3" />
<line x1="701" y1="910.8" x2="723.8" y2="910.8" stroke="#1a1a1a" stroke-width="1.3" />
<line x1="707" y1="860.1" x2="717.9" y2="860.1" stroke="#1a1a1a" stroke-width="1.3" />
<line x1="707" y1="871.6" x2="717.9" y2="871.6" stroke="#1a1a1a" stroke-width="1.3" />
<line x1="707" y1="882.9" x2="717.9" y2="882.9" stroke="#1a1a1a" stroke-width="1.3" />
<line x1="707" y1="894.2" x2="717.9" y2="894.2" stroke="#1a1a1a" stroke-width="1.3" />
<line x1="707" y1="905.2" x2="717.9" y2="905.2" stroke="#1a1a1a" stroke-width="1.3" />
<line x1="707" y1="916.66" x2="717.9" y2="916.66" stroke="#1a1a1a" stroke-width="1.3" />
<line x1="712" y1="916.66" x2="712" y2="936.7" stroke="#1a1a1a" stroke-width="1.2" />
<line x1="718.6" y1="846" x2="724.6" y2="846" stroke="#1a1a1a" stroke-width="1.2" />
<line x1="721.6" y1="843" x2="721.6" y2="849" stroke="#1a1a1a" stroke-width="1.2" />
<line x1="718.2" y1="928.2" x2="723.8" y2="928.2" stroke="#1a1a1a" stroke-width="1.2" />
<circle cx="712" cy="936.7" r="4.2" fill="#111"/>
<line x1="712" y1="936.7" x2="712" y2="968.6" stroke="#151515" stroke-width="2.4" />
<circle cx="712" cy="977.2" r="4.4" fill="#111"/>
<line x1="703.5" y1="981.5" x2="720.5" y2="981.5" stroke="#1a1a1a" stroke-width="1.4" />
<line x1="706.7" y1="984.9000000000001" x2="717.3" y2="984.9000000000001" stroke="#1a1a1a" stroke-width="1.4" />
<line x1="710" y1="988.5" x2="714" y2="988.5" stroke="#1a1a1a" stroke-width="1.4" />
<text xml:space="preserve" x="733.80" y="848.60" font-size="12" font-weight="normal" textLength="53.84" lengthAdjust="spacingAndGlyphs" fill="#111">BATTERY</text>
<text xml:space="preserve" x="681.80" y="960.40" font-size="12" font-weight="normal" textLength="24.63" lengthAdjust="spacingAndGlyphs" fill="#111">NCA</text>
</svg></body></html>
